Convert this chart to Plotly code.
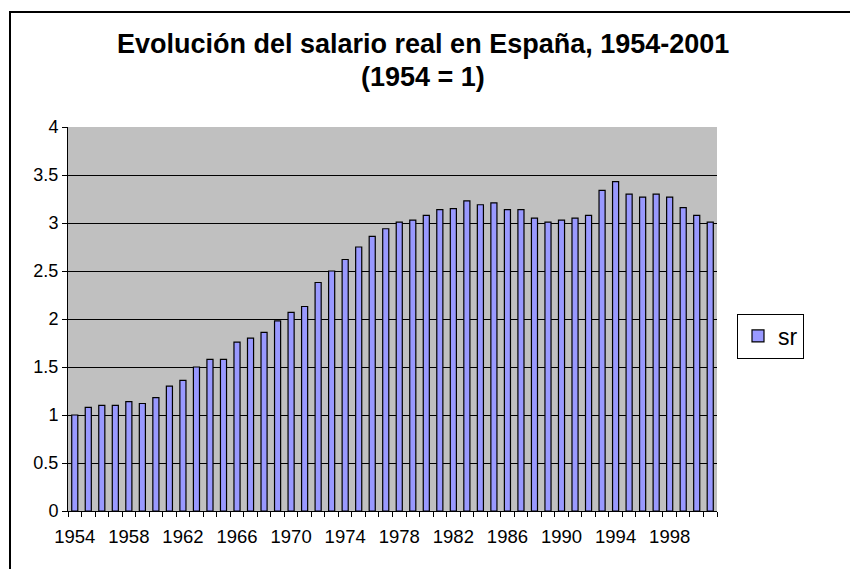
import plotly.graph_objects as go

years = list(range(1954, 2002))
sr = [1.00, 1.08, 1.10, 1.10, 1.14, 1.12, 1.18, 1.30, 1.36, 1.50,
      1.58, 1.58, 1.76, 1.80, 1.86, 1.98, 2.07, 2.13, 2.38, 2.50,
      2.62, 2.75, 2.86, 2.94, 3.01, 3.03, 3.08, 3.14, 3.15, 3.23,
      3.19, 3.21, 3.14, 3.14, 3.05, 3.01, 3.03, 3.05, 3.08, 3.34,
      3.43, 3.30, 3.27, 3.30, 3.27, 3.16, 3.08, 3.01]
tick_years = list(range(1954, 2002, 4))
series_name = "sr"
title_line1 = "Evolución del salario real en España, 1954-2001"
title_line2 = "(1954 = 1)"

FONT = "Liberation Sans, Arial, sans-serif"

fig = go.Figure()
fig.add_trace(go.Bar(
    x=years, y=sr, name=series_name,
    marker=dict(color="#9999FF", line=dict(color="black", width=1.2)),
    width=0.45,
))

L, R, T, B = 68, 133, 127, 58
W, H = 850, 569
pw, ph = W - L - R, H - T - B

def px(x):
    return (x - L) / pw

def py(y):
    return (H - B - y) / ph

fig.update_layout(
    width=W, height=H,
    margin=dict(l=L, r=R, t=T, b=B),
    paper_bgcolor="white",
    plot_bgcolor="#C0C0C0",
    font=dict(family=FONT, color="black", size=18),
    showlegend=True,
    legend=dict(
        x=px(737), y=py(336), xanchor="left", yanchor="middle",
        bordercolor="black", borderwidth=1, bgcolor="white",
        font=dict(size=23, family=FONT),
        itemwidth=30,
    ),
    xaxis=dict(
        range=[1953.5, 2001.5],
        tickvals=tick_years,
        ticktext=[str(y) for y in tick_years],
        ticks="", showgrid=False,
        showline=True, linecolor="black", linewidth=1,
        tickfont=dict(size=18.5),
        ticklabelstandoff=9,
        minor=dict(tick0=1953.5, dtick=1, ticks="outside", ticklen=5,
                   tickcolor="black", showgrid=False),
        zeroline=False,
    ),
    yaxis=dict(
        range=[0, 4], dtick=0.5,
        showgrid=True, gridcolor="black", gridwidth=1,
        ticks="outside", ticklen=5, tickcolor="black",
        showline=True, linecolor="black", linewidth=1,
        tickfont=dict(size=18),
        zeroline=False,
    ),
    shapes=[dict(
        type="rect", xref="paper", yref="paper",
        x0=px(10), x1=px(900), y0=py(620), y1=py(12),
        line=dict(color="black", width=2), fillcolor="rgba(0,0,0,0)",
        layer="above",
    )],
    annotations=[
        dict(text="<b>" + title_line1 + "</b>", xref="paper", yref="paper",
             x=px(423), y=py(44), showarrow=False,
             xanchor="center", yanchor="middle",
             font=dict(size=27, family=FONT, color="black")),
        dict(text="<b>" + title_line2 + "</b>", xref="paper", yref="paper",
             x=px(423), y=py(77), showarrow=False,
             xanchor="center", yanchor="middle",
             font=dict(size=27, family=FONT, color="black")),
    ],
)

fig.write_html(
    "out.html",
    config={"displayModeBar": False},
    post_script="document.body.style.margin='0';document.body.style.overflow='hidden';",
)
